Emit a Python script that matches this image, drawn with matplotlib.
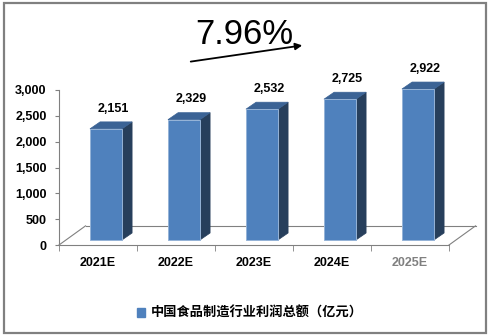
import matplotlib.pyplot as plt
from matplotlib.patches import Polygon, Rectangle, Patch, FancyArrowPatch

plt.rcParams['font.family'] = ['Liberation Sans', 'Noto Sans CJK SC', 'DejaVu Sans']

categories = ["2021E", "2022E", "2023E", "2024E", "2025E"]
profits = [2151, 2329, 2532, 2725, 2922]
growth_label = "7.96%"
series_name = "中国食品制造行业利润总额（亿元）"
y_ticks = [0, 500, 1000, 1500, 2000, 2500, 3000]
y_tick_labels = ["0", "500", "1,000", "1,500", "2,000", "2,500", "3,000"]

W, H = 491, 336
fig = plt.figure(figsize=(W / 100, H / 100), dpi=100)

# outer grey frame
fig.patches.append(Rectangle((4 / W, 3 / H), 482 / W, 330 / H, transform=fig.transFigure,
                             fill=False, edgecolor="#808080", linewidth=1.6))

ax = fig.add_axes([59 / W, (H - 245) / H, 390 / W, 155 / H])
ax.set_xlim(-0.5, len(categories) - 0.5)
ax.set_ylim(0, 3000)

# pseudo-3D geometry (data units)
base = 97          # bar bottom above front floor edge
bar_left = -0.103
bar_w = 0.41
dx, dy = 0.13, 135  # depth offset of bar
fdx, fdy = 0.34, 370  # depth offset of floor

front_c = "#4F81BD"
top_c = "#3B6395"
side_c = "#273F5C"
floor_c = "#808080"

# floor outline
n = len(categories)
ax.plot([-0.5 + fdx, n - 0.5 + fdx], [fdy, fdy], color=floor_c, lw=0.8, clip_on=False, zorder=1)
ax.plot([-0.5, -0.5 + fdx], [0, fdy], color=floor_c, lw=0.8, clip_on=False, zorder=1)
ax.plot([n - 0.5, n - 0.5 + fdx], [0, fdy], color=floor_c, lw=0.8, clip_on=False, zorder=1)

for i, v in enumerate(profits):
    x0 = i + bar_left
    x1 = x0 + bar_w
    y0 = base
    y1 = base + v
    ax.add_patch(Rectangle((x0, y0), bar_w, v, facecolor=front_c, edgecolor="#95B3D7",
                           lw=0.7, clip_on=False, zorder=3))
    ax.add_patch(Polygon([(x1, y0), (x1 + dx, y0 + dy), (x1 + dx, y1 + dy), (x1, y1)],
                         closed=True, facecolor=side_c, edgecolor=side_c, lw=0.5,
                         clip_on=False, zorder=2))
    ax.add_patch(Polygon([(x0, y1), (x0 + dx, y1 + dy), (x1 + dx, y1 + dy), (x1, y1)],
                         closed=True, facecolor=top_c, edgecolor=top_c, lw=0.5,
                         clip_on=False, zorder=2))
    ax.text(i + 0.2, v + 490, f"{v:,}", ha="center", va="center",
            fontsize=9, fontweight="bold", clip_on=False)

for s in ["top", "right"]:
    ax.spines[s].set_visible(False)
for s in ["left", "bottom"]:
    ax.spines[s].set_color(floor_c)
    ax.spines[s].set_linewidth(0.8)

ax.set_yticks(y_ticks)
ax.set_yticklabels(y_tick_labels, fontsize=9, fontweight="bold")
ax.set_xticks(range(n))
ax.set_xticklabels(categories, fontsize=9, fontweight="bold")
ax.get_xticklabels()[-1].set_color("#808080")
ax.set_xticks([i - 0.5 for i in range(n + 1)], minor=True)
ax.tick_params(axis="x", which="major", length=0, pad=9)
ax.tick_params(axis="x", which="minor", length=4, color=floor_c, direction="out")
ax.tick_params(axis="y", length=3, color=floor_c, pad=6)

# growth annotation
fig.text(244 / W, 1 - 35 / H, growth_label, ha="center", va="center", fontsize=25)
fig.patches.append(FancyArrowPatch(
    (188 / W, 1 - 62 / H), (305 / W, 1 - 45 / H), transform=fig.transFigure,
    arrowstyle="-|>", mutation_scale=10, color="black", lw=1.3))

fig.legend(handles=[Patch(facecolor=front_c, edgecolor=front_c)], labels=[series_name],
           loc="center", bbox_to_anchor=(250 / W, 1 - 313 / H), frameon=False,
           handlelength=0.6, handleheight=0.6, handletextpad=0.4,
           prop={"family": ["Noto Sans CJK SC", "DejaVu Sans"], "weight": "bold", "size": 9.5})

fig.savefig("out.png", dpi=100)
